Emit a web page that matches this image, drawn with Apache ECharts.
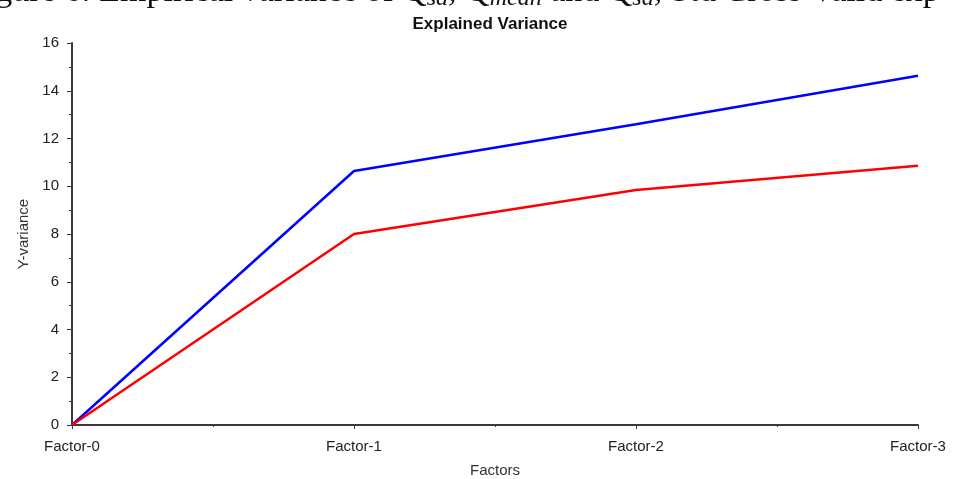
<!DOCTYPE html>
<html>
<head>
<meta charset="utf-8">
<script src="https://cdn.jsdelivr.net/npm/echarts@6/dist/echarts.min.js"></script>
<style>
  html, body { margin: 0; padding: 0; background: #fff; overflow: hidden; }
  #chart { width: 955px; height: 479px; }
</style>
</head>
<body>
<div id="chart"></div>
<script>
// Factor steps on the x axis
const categories = ['Factor-0', 'Factor-1', 'Factor-2', 'Factor-3'];
// Explained variance per number of factors
const blueSeries = [0, 10.64, 12.6, 14.63];
const redSeries = [0, 8.0, 9.84, 10.86];
// Y axis tick values
const yTicks = [0, 2, 4, 6, 8, 10, 12, 14, 16];

const toPoints = vals => vals.map((v, i) => [i, v]);

const chart = echarts.init(document.getElementById('chart'), null, { renderer: 'canvas' });

const axisColor = '#3a3a3a';
const labelFont = { fontFamily: 'Liberation Sans, Arial, sans-serif', fontSize: 15, color: '#222' };

chart.setOption({
  animation: false,
  backgroundColor: '#fff',
  title: {
    text: 'Explained Variance',
    left: 485,
    top: 11,
    textAlign: 'center',
    textStyle: { fontFamily: 'Liberation Sans Narrow, Liberation Sans, Arial, sans-serif', fontSize: 17, fontWeight: 'bold', color: '#111' }
  },
  graphic: [{
    type: 'text',
    left: -33,
    top: -25,
    style: {
      text: 'Figure 6: Empirical variance of Q{s|sd}, Q{s|mean} and Q{s|sd}, Std Cross Valid exp',
      font: '34px "Liberation Serif", "DejaVu Serif", serif',
      fill: '#111',
      rich: {
        s: { font: 'italic 24px "Liberation Serif", serif', fill: '#111', padding: [14, 0, 0, 0] }
      }
    }
  }],
  grid: { left: 72, right: 37, top: 43, bottom: 54, containLabel: false, outerBoundsMode: 'none' },
  xAxis: {
    type: 'value',
    min: 0,
    max: categories.length - 1,
    interval: 1,
    name: 'Factors',
    nameLocation: 'middle',
    nameGap: 38,
    nameTextStyle: { ...labelFont, color: '#333' },
    axisLine: { lineStyle: { color: axisColor, width: 2 } },
    axisTick: { show: true, length: 4, lineStyle: { color: axisColor, width: 1 } },
    minorTick: { show: true, splitNumber: 2, length: 2, lineStyle: { color: axisColor, width: 1 } },
    axisLabel: { ...labelFont, margin: 14, formatter: v => categories[v] !== undefined ? categories[v] : '' },
    splitLine: { show: false }
  },
  yAxis: {
    type: 'value',
    min: yTicks[0],
    max: yTicks[yTicks.length - 1],
    interval: yTicks[1] - yTicks[0],
    name: 'Y-variance',
    nameLocation: 'middle',
    nameGap: 41,
    nameTextStyle: { ...labelFont, color: '#333' },
    axisLine: { show: true, lineStyle: { color: axisColor, width: 2 } },
    axisTick: { show: true, length: 5, lineStyle: { color: axisColor, width: 1 } },
    minorTick: { show: true, splitNumber: 2, length: 3, lineStyle: { color: axisColor, width: 1 } },
    axisLabel: { ...labelFont, margin: 13 },
    splitLine: { show: false }
  },
  series: [
    {
      type: 'line',
      data: toPoints(blueSeries),
      showSymbol: false,
      lineStyle: { color: '#0000ff', width: 2.5 },
      itemStyle: { color: '#0000ff' }
    },
    {
      type: 'line',
      data: toPoints(redSeries),
      showSymbol: false,
      lineStyle: { color: '#ff0000', width: 2.5 },
      itemStyle: { color: '#ff0000' }
    }
  ]
});
</script>
</body>
</html>
